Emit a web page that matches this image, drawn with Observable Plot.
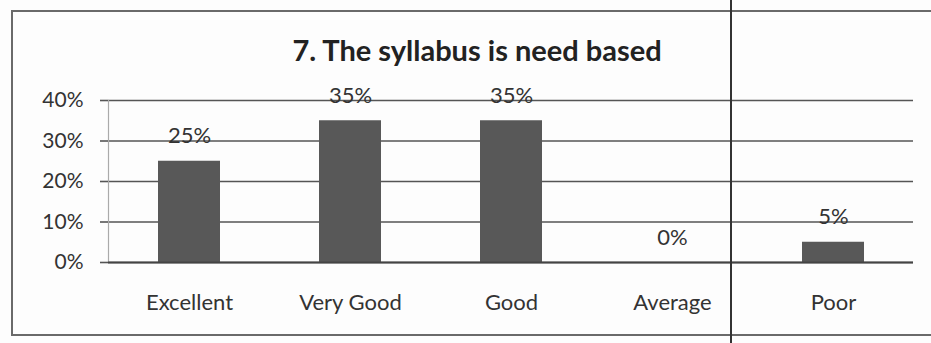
<!DOCTYPE html>
<html>
<head>
<meta charset="utf-8">
<script src="https://cdn.jsdelivr.net/npm/d3@7"></script>
<script src="https://cdn.jsdelivr.net/npm/@observablehq/plot@0.6"></script>
<style>
  html, body { margin: 0; padding: 0; background: #fdfdfd; }
  #wrap { position: relative; width: 931px; height: 343px; overflow: hidden; }
  #box { position: absolute; left: 11px; top: 10px; width: 960px; height: 326px;
         border: 2px solid #6a6a6a; box-sizing: border-box; }
  #fold { position: absolute; left: 730px; top: 0; width: 1.5px; height: 343px; background: #333; }
  #chart { position: absolute; left: 0; top: 0; }
</style>
</head>
<body>
<div id="wrap">
  <div id="box"></div>
  <div id="chart"></div>
  <div id="fold"></div>
</div>
<script>
const title = "7. The syllabus is need based";
const categories = ["Excellent", "Very Good", "Good", "Average", "Poor"];
const values = [25, 35, 35, 0, 5];
const yTicks = [0, 10, 20, 30, 40];

const data = categories.map((c, i) => ({category: c, value: values[i]}));
const font = "Lato, 'Open Sans', sans-serif";

const chart = Plot.plot({
  width: 931,
  height: 343,
  marginLeft: 108,
  marginRight: 18,
  marginTop: 100,
  marginBottom: 81,
  style: {fontFamily: font, background: "transparent", color: "#333"},
  x: {domain: categories, paddingInner: 0.615, paddingOuter: 0.3075},
  y: {domain: [0, 40]},
  marks: [
    Plot.gridY(yTicks, {stroke: "#555", strokeOpacity: 1, strokeWidth: 1.6}),
    Plot.frame({anchor: "left", stroke: "#aaa", strokeWidth: 1.2}),
    Plot.axisY(yTicks, {
      tickSize: 8, tickPadding: 17, stroke: "#555", strokeWidth: 1.6,
      tickFormat: d => d + "%", fontSize: 21, fill: "#333", label: null
    }),
    Plot.axisX({tickSize: 0, tickPadding: 32, fontSize: 22, fill: "#333", label: null}),
    Plot.barY(data, {x: "category", y: "value", fill: "#585858"}),
    Plot.ruleY([0], {stroke: "#444", strokeWidth: 2}),
    Plot.text(data, {x: "category", y: "value", text: d => d.value + "%",
      dy: -25, fontSize: 22, fill: "#333"}),
    Plot.text([title], {frameAnchor: "top", dx: -34, dy: -60, fontSize: 29, fontWeight: "bold", fill: "#222"})
  ]
});
document.getElementById("chart").appendChild(chart);
</script>
</body>
</html>
